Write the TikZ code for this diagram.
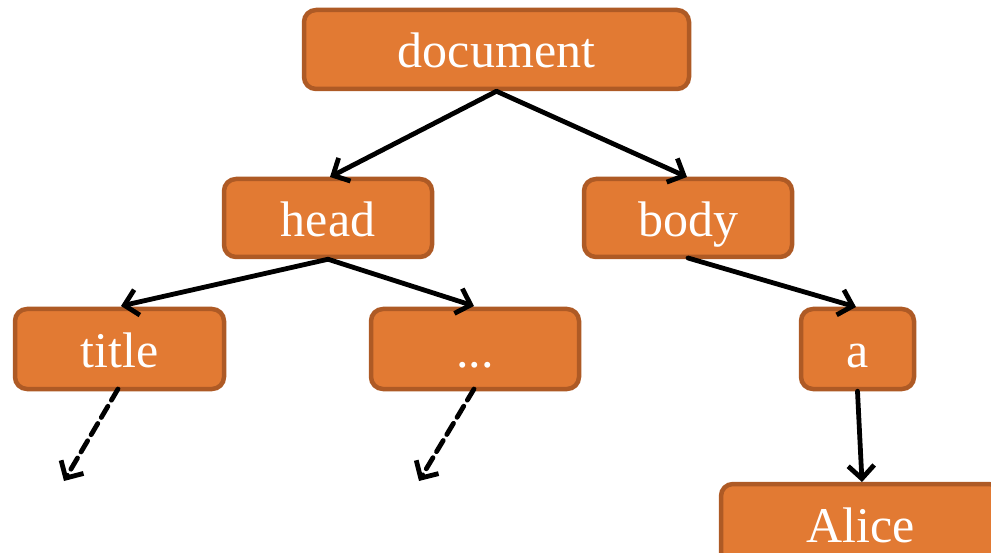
\documentclass[tikz,border=0pt]{standalone}
\usepackage{fontspec}
\setmainfont{Liberation Serif}
\usetikzlibrary{arrows.meta}
\definecolor{boxfill}{HTML}{E27A33}
\definecolor{boxline}{HTML}{AE5A25}
\begin{document}
\begin{tikzpicture}[x=1pt,y=-1pt,
  treebox/.style={draw=boxline,fill=boxfill,line width=4.5pt,rounded corners=12pt,
    text=white,font=\fontsize{50}{54}\selectfont,inner sep=0pt,anchor=center,
    text height=37pt,text depth=0pt},
  edge/.style={line width=4.8pt,line cap=round,-{Straight Barb[length=13pt,width=26pt,line width=4.8pt]}},
  dashedge/.style={edge,dash pattern=on 13pt off 7pt}]
\useasboundingbox (0,0) rectangle (991,553);
\node[treebox,minimum width=385pt,minimum height=79pt] (doc) at (496.5,49.5) {document};
\node[treebox,minimum width=208pt,minimum height=78pt] (head) at (328,218) {head};
\node[treebox,minimum width=208pt,minimum height=78pt] (body) at (688,218) {body};
\node[treebox,minimum width=209pt,minimum height=80pt] (title) at (119.5,349) {title};
\node[treebox,minimum width=208pt,minimum height=80pt] (dots) at (475,349) {...};
\node[treebox,minimum width=113pt,minimum height=80pt] (a) at (857.5,349) {a};
\node[treebox,minimum width=280pt,minimum height=80pt] (alice) at (861,524) {Alice};
\coordinate (d1) at (64,481);
\coordinate (d2) at (419,481);
\draw[edge] (doc.south) -- (330,177);
\draw[edge] (doc.south) -- (687,177);
\draw[edge] (head.south) -- (121,306);
\draw[edge] (head.south) -- (474,306);
\draw[edge] (688,258) -- (856,307);
\draw[edge] (a.south) -- (862,482);
\draw[dashedge] (118,389) -- (d1);
\draw[dashedge] (474,389) -- (d2);
\end{tikzpicture}
\end{document}
